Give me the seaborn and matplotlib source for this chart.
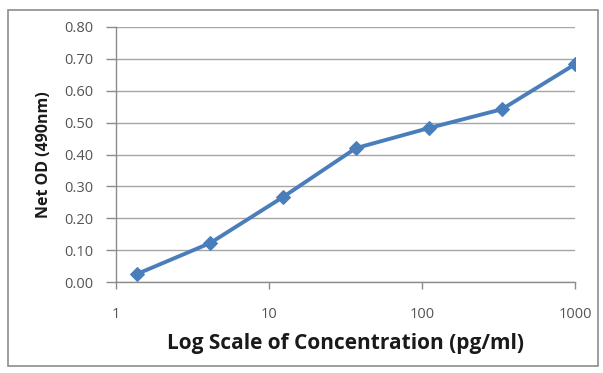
import matplotlib
matplotlib.use("Agg")
import matplotlib.pyplot as plt
import seaborn as sns
import pandas as pd
from matplotlib.patches import Rectangle
from matplotlib.ticker import FixedLocator, FixedFormatter, NullLocator

# data (3-fold dilution series)
concentration = [1.37, 4.12, 12.3, 37.0, 111.0, 333.0, 1000.0]
net_od = [0.025, 0.122, 0.266, 0.420, 0.483, 0.542, 0.683]
x_ticks = [1, 10, 100, 1000]
y_ticks = [0.0, 0.1, 0.2, 0.3, 0.4, 0.5, 0.6, 0.7, 0.8]

df = pd.DataFrame({'conc': concentration, 'od': net_od})

sns.set_style('white')
plt.rcParams['font.family'] = ['Open Sans', 'DejaVu Sans']

fig = plt.figure(figsize=(6.03, 3.73), dpi=100)
ax = fig.add_axes([116 / 603, 1 - 282 / 373, 459 / 603, 255 / 373])

# outer chart border
fig.patches.append(Rectangle((8 / 603, 1 - 366 / 373), 590 / 603, 356 / 373,
                             transform=fig.transFigure, fill=False,
                             edgecolor='#8c8c8c', linewidth=1.2))

sns.lineplot(data=df, x='conc', y='od', ax=ax, color='#4a7ebb', linewidth=2.8,
             marker='D', markersize=7.5, markeredgecolor='#4a7ebb')

ax.set_xscale('log')
ax.set_xlim(1, 1000)
ax.set_ylim(0, 0.8)
ax.xaxis.set_major_locator(FixedLocator(x_ticks))
ax.xaxis.set_major_formatter(FixedFormatter([str(t) for t in x_ticks]))
ax.xaxis.set_minor_locator(NullLocator())
ax.set_yticks(y_ticks)
ax.set_yticklabels(['%.2f' % t for t in y_ticks])

ax.grid(axis='y', color='#a6a6a6', linewidth=1.0)
ax.set_axisbelow(True)
for s in ['top', 'right']:
    ax.spines[s].set_visible(False)
for s in ['left', 'bottom']:
    ax.spines[s].set_color('#8c8c8c')
    ax.spines[s].set_linewidth(1.0)

ax.tick_params(axis='y', direction='out', length=7, width=1, color='#8c8c8c',
               labelsize=10.5, labelcolor='#555555', pad=9, left=True)
ax.tick_params(axis='x', direction='out', length=5, width=1, color='#8c8c8c',
               labelsize=10.5, labelcolor='#555555', pad=13, bottom=True)

ax.set_xlabel('Log Scale of Concentration (pg/ml)', fontsize=15, fontweight='bold',
              color='#1a1a1a', labelpad=8)
ax.set_ylabel('Net OD (490nm)', fontsize=11.5, fontweight='bold', color='#1a1a1a',
              labelpad=9)

fig.savefig('out.png', dpi=100)
